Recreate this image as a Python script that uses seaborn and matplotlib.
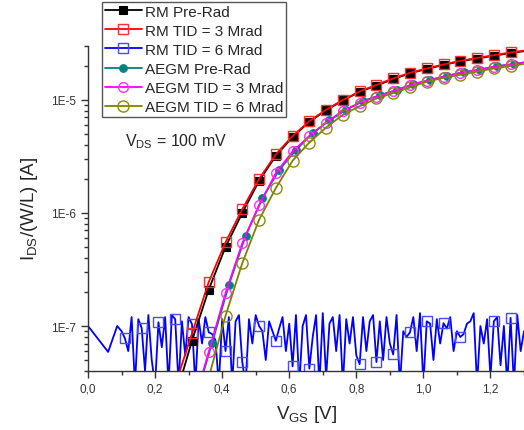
import numpy as np
import matplotlib
matplotlib.use("Agg")
import matplotlib.pyplot as plt
import matplotlib.ticker as mticker
import seaborn as sns

# Transfer curves I_DS/(W/L) vs V_GS
# (first and last point of each curve lie outside the visible window)
v_rm = [0.26, 0.31, 0.36, 0.41, 0.46, 0.51, 0.56, 0.61, 0.66, 0.71, 0.76,
        0.81, 0.86, 0.91, 0.96, 1.01, 1.06, 1.11, 1.16, 1.21, 1.26, 1.32]
rm_pre = [2.3e-8, 7.4e-8, 2.1e-7, 5.0e-7, 1.0e-6, 1.92e-6, 3.2e-6, 4.7e-6,
          6.4e-6, 8.1e-6, 9.9e-6, 1.18e-5, 1.34e-5, 1.53e-5, 1.72e-5,
          1.88e-5, 2.04e-5, 2.2e-5, 2.32e-5, 2.46e-5, 2.6e-5, 2.75e-5]
rm_3 = [3.0e-8, 8.6e-8, 2.45e-7, 5.5e-7, 1.08e-6, 2.0e-6, 3.3e-6, 4.8e-6,
        6.5e-6, 8.2e-6, 1.0e-5, 1.19e-5, 1.36e-5, 1.55e-5, 1.74e-5,
        1.9e-5, 2.06e-5, 2.22e-5, 2.35e-5, 2.49e-5, 2.63e-5, 2.78e-5]

v_aegm_pre = [0.32, 0.37, 0.42, 0.47, 0.52, 0.57, 0.62, 0.67, 0.72, 0.77,
              0.82, 0.87, 0.92, 0.97, 1.02, 1.07, 1.12, 1.17, 1.22, 1.27, 1.32]
aegm_pre = [2.2e-8, 7.1e-8, 2.3e-7, 6.3e-7, 1.35e-6, 2.4e-6, 3.6e-6, 5.1e-6,
            6.6e-6, 8.2e-6, 9.8e-6, 1.1e-5, 1.22e-5, 1.38e-5, 1.5e-5,
            1.63e-5, 1.76e-5, 1.85e-5, 1.99e-5, 2.08e-5, 2.2e-5]

v_aegm_3 = [0.31, 0.36, 0.41, 0.46, 0.51, 0.56, 0.61, 0.66, 0.71, 0.76,
            0.81, 0.86, 0.91, 0.96, 1.01, 1.06, 1.11, 1.16, 1.21, 1.26, 1.32]
aegm_3 = [1.8e-8, 5.9e-8, 1.95e-7, 5.4e-7, 1.17e-6, 2.25e-6, 3.5e-6, 4.8e-6,
          6.3e-6, 8.0e-6, 9.4e-6, 1.07e-5, 1.2e-5, 1.35e-5, 1.48e-5,
          1.61e-5, 1.74e-5, 1.84e-5, 1.97e-5, 2.06e-5, 2.18e-5]

v_aegm_6 = [0.36, 0.41, 0.46, 0.51, 0.56, 0.61, 0.66, 0.71, 0.76, 0.81,
            0.86, 0.91, 0.96, 1.01, 1.06, 1.11, 1.16, 1.21, 1.26, 1.32]
aegm_6 = [3.5e-8, 1.23e-7, 3.6e-7, 8.7e-7, 1.66e-6, 2.9e-6, 4.2e-6, 5.7e-6,
          7.4e-6, 8.8e-6, 1.03e-5, 1.15e-5, 1.29e-5, 1.45e-5, 1.57e-5,
          1.67e-5, 1.78e-5, 1.9e-5, 2.0e-5, 2.12e-5]

# RM TID = 6 Mrad: device is dead, only noise floor
v_rm_6 = [0.0, 0.06, 0.087] + list(np.round(np.arange(0.10, 1.305, 0.01), 2))
rm_6 = [1.0e-7, 5.9e-8, 1.0e-7] + [x * 1e-8 for x in [
    9.0, 7.8, 6.0, 12.0, 3.0, 11.5, 9.6, 4.0, 12.5, 5.0,
    3.0, 10.8, 6.5, 12.0, 3.0, 12.5, 11.5, 3.0, 11.0, 5.5,
    12.0, 10.4, 3.0, 11.5, 7.0, 12.0, 8.8, 8.5, 7.5, 3.0,
    11.5, 6.0, 12.0, 3.0, 11.0, 12.5, 4.8, 3.0, 11.5, 7.0,
    12.5, 10.0, 9.0, 5.0, 11.0, 9.0, 7.4, 9.5, 12.0, 6.0,
    10.5, 4.4, 12.5, 3.0, 10.0, 12.5, 4.2, 8.0, 12.5, 3.0,
    13.0, 3.5, 10.5, 12.0, 6.0, 12.5, 3.0, 11.5, 7.0, 12.0,
    5.5, 4.6, 12.0, 6.0, 11.0, 12.5, 4.8, 11.0, 5.0, 12.0,
    7.0, 5.6, 12.5, 3.0, 9.0, 8.0, 8.8, 12.0, 6.0, 13.0,
    3.0, 11.0, 10.5, 5.0, 11.5, 7.0, 10.6, 9.5, 12.0, 6.0,
    9.0, 8.0, 8.5, 10.5, 11.0, 13.0, 3.0, 10.0, 7.0, 11.5,
    3.5, 11.0, 12.0, 4.5, 10.0, 3.0, 11.8, 3.0, 12.5, 6.0,
    9.0]]

labels = ["RM Pre-Rad", "RM TID = 3 Mrad", "RM TID = 6 Mrad",
          "AEGM Pre-Rad", "AEGM TID = 3 Mrad", "AEGM TID = 6 Mrad"]

sns.set_style("ticks")
plt.rcParams["font.family"] = ["Liberation Sans", "DejaVu Sans"]
plt.rcParams["mathtext.fontset"] = "custom"
plt.rcParams["mathtext.rm"] = "Liberation Sans"
plt.rcParams["mathtext.it"] = "Liberation Sans:italic"

fig = plt.figure(figsize=(5.24, 4.31), dpi=100)
ax = fig.add_axes([88 / 524, 1 - 372 / 431, 1 - 88 / 524, (372 - 47) / 431])

inner = slice(1, -1)
sns.lineplot(x=v_rm, y=rm_pre, ax=ax, color="black", lw=1.3, marker="s",
             ms=5.5, mfc="black", mec="black", mew=0.8, markevery=inner)
sns.lineplot(x=v_rm, y=rm_3, ax=ax, color="#ff0000", lw=1.3, marker="s",
             ms=7, mfc="none", mec="#ff3030", mew=1.0, markevery=inner)
sns.lineplot(x=v_rm_6, y=rm_6, ax=ax, color="#0000ff", lw=1.3, marker="s",
             ms=7.5, mfc="none", mec="#4a4aff", mew=1.0, markevery=(4, 5))
sns.lineplot(x=v_aegm_pre, y=aegm_pre, ax=ax, color="#008080", lw=1.3,
             marker="o", ms=5.5, mfc="#008080", mec="#008080", mew=0.8,
             markevery=inner)
sns.lineplot(x=v_aegm_3, y=aegm_3, ax=ax, color="#ff00ff", lw=1.3,
             marker="o", ms=7, mfc="none", mec="#ff30ff", mew=1.0,
             markevery=inner)
sns.lineplot(x=v_aegm_6, y=aegm_6, ax=ax, color="#808000", lw=1.3,
             marker="o", ms=8, mfc="none", mec="#8a8a10", mew=1.0,
             markevery=inner)

# reorder so the blue noise sits under the curves
for z, line in zip([3, 4, 2, 5, 6, 7], ax.lines):
    line.set_zorder(z)

ax.set_yscale("log")
ax.set_ylim(4e-8, 3e-5)
ax.set_xlim(0, 1.3)

ax.yaxis.set_major_locator(mticker.FixedLocator([1e-7, 1e-6, 1e-5]))
ax.yaxis.set_major_formatter(
    mticker.FuncFormatter(lambda v, p: "1E%d" % round(np.log10(v))))
ax.yaxis.set_minor_locator(mticker.LogLocator(base=10, subs=np.arange(2, 10)))
ax.yaxis.set_minor_formatter(mticker.NullFormatter())

ax.xaxis.set_major_locator(mticker.MultipleLocator(0.2))
ax.xaxis.set_minor_locator(mticker.MultipleLocator(0.1))
ax.xaxis.set_major_formatter(
    mticker.FuncFormatter(lambda v, p: ("%.1f" % v).replace(".", ",")))

ax.tick_params(which="major", direction="out", length=5, width=1,
               color="#333333", labelsize=8.5, labelcolor="#333333")
ax.tick_params(which="minor", direction="out", length=3, width=1,
               color="#333333")

for s in ["top", "right"]:
    ax.spines[s].set_visible(False)
for s in ["left", "bottom"]:
    ax.spines[s].set_color("#333333")
    ax.spines[s].set_linewidth(1)

ax.set_xlabel(r"V$_{\mathrm{GS}}$ [V]", fontsize=13.5, labelpad=6)
ax.set_ylabel(r"I$_{\mathrm{DS}}$/(W/L) [A]", fontsize=13.5, labelpad=8)

fig.text(125 / 524, 1 - 142 / 431, r"V$_{\mathrm{DS}}$ = 100 mV",
         fontsize=11.5, va="center", ha="left")

handles = list(ax.lines)
leg = fig.legend(handles, labels, loc="lower right",
                 bbox_to_anchor=(286 / 524, 1 - 118 / 431),
                 fontsize=11, frameon=True, fancybox=False, framealpha=1,
                 edgecolor="#555555", labelspacing=0.33, handlelength=2.4,
                 handletextpad=0.2, borderpad=0.2, borderaxespad=0,
                 numpoints=1)
leg.get_frame().set_linewidth(1.0)

fig.savefig("out.png", dpi=100)
